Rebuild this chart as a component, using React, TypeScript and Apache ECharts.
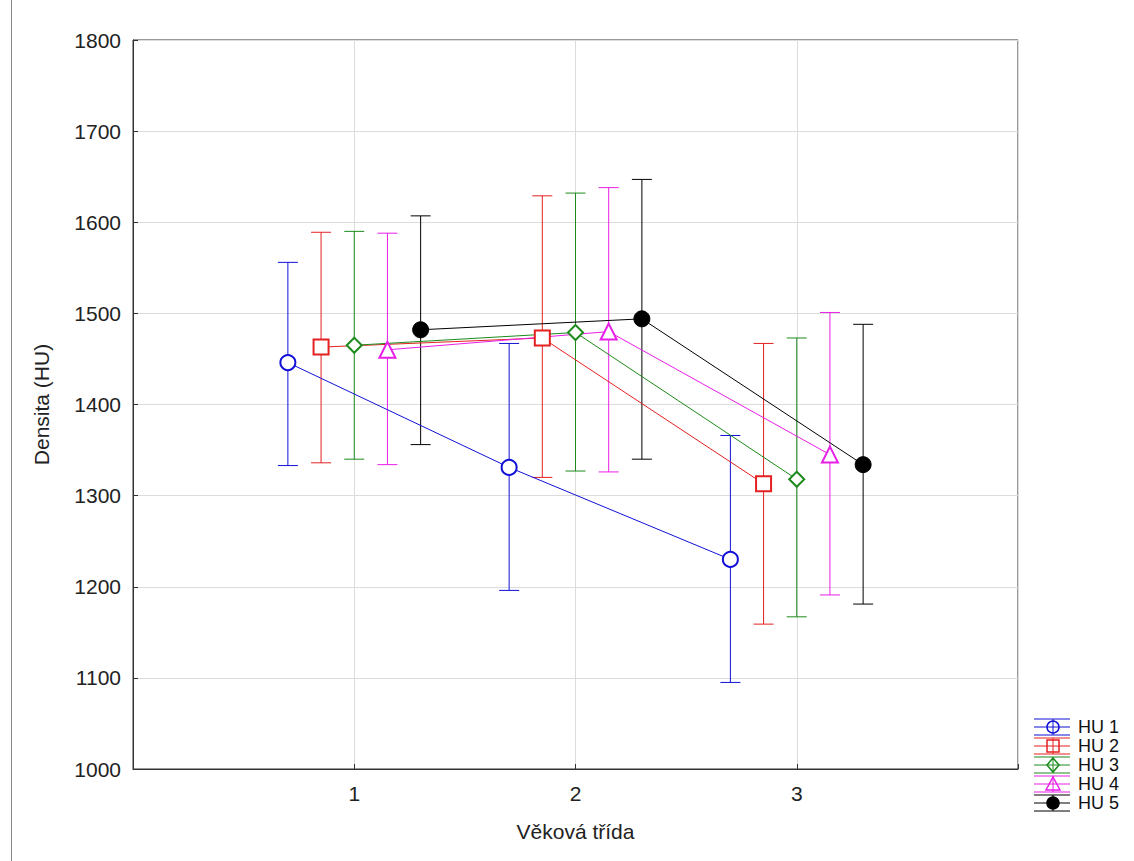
import React, { useEffect, useRef } from "react";
import * as echarts from "echarts";

const groups = [1, 2, 3];
const seriesNames = ["HU 1", "HU 2", "HU 3", "HU 4", "HU 5"];
const offsets = [-0.3, -0.15, 0, 0.15, 0.3];
const colors = ["#1010d8", "#e42020", "#1c8a1c", "#e81ee8", "#000000"];
const symbols = ["circle", "rect", "diamond", "triangle", "circle"];
const symbolSizes = [15, 15, 15, 16, 16];
const filled = [false, false, false, false, true];

const hu1Mean = [1446, 1331, 1230];
const hu1Low = [1333, 1196, 1095];
const hu1High = [1556, 1467, 1366];
const hu2Mean = [1463, 1473, 1313];
const hu2Low = [1336, 1320, 1159];
const hu2High = [1589, 1629, 1467];
const hu3Mean = [1465, 1479, 1318];
const hu3Low = [1340, 1327, 1167];
const hu3High = [1590, 1632, 1473];
const hu4Mean = [1460, 1480, 1345];
const hu4Low = [1334, 1326, 1191];
const hu4High = [1588, 1638, 1501];
const hu5Mean = [1482, 1494, 1334];
const hu5Low = [1356, 1340, 1181];
const hu5High = [1607, 1647, 1488];

const yTicks = [1000, 1100, 1200, 1300, 1400, 1500, 1600, 1700, 1800];
const xTickLabels = ["1", "2", "3"];

const means = [hu1Mean, hu2Mean, hu3Mean, hu4Mean, hu5Mean];
const lows = [hu1Low, hu2Low, hu3Low, hu4Low, hu5Low];
const highs = [hu1High, hu2High, hu3High, hu4High, hu5High];

const FONT = "'Liberation Sans', Arial, sans-serif";

export default function App() {
  const ref = useRef<HTMLDivElement>(null);
  useEffect(() => {
    if (!ref.current) return;
    const chart = echarts.init(ref.current, null, { renderer: "svg" });
    const series: any[] = [];
    seriesNames.forEach((name, i) => {
      const col = colors[i];
      series.push({
        type: "custom",
        name: name + " err",
        z: 2,
        data: groups.map((g, k) => [g + offsets[i], lows[i][k], highs[i][k]]),
        renderItem: (params: any, api: any) => {
          const x = api.value(0);
          const lo = api.coord([x, api.value(1)]);
          const hi = api.coord([x, api.value(2)]);
          const cap = 10;
          const st = { stroke: col, lineWidth: 1 };
          return {
            type: "group",
            children: [
              { type: "line", shape: { x1: lo[0], y1: lo[1], x2: hi[0], y2: hi[1] }, style: st },
              { type: "line", shape: { x1: lo[0] - cap, y1: lo[1], x2: lo[0] + cap, y2: lo[1] }, style: st },
              { type: "line", shape: { x1: hi[0] - cap, y1: hi[1], x2: hi[0] + cap, y2: hi[1] }, style: st },
            ],
          };
        },
      });
      series.push({
        type: "line",
        name,
        z: 3,
        data: groups.map((g, k) => [g + offsets[i], means[i][k]]),
        symbol: symbols[i],
        symbolSize: symbolSizes[i],
        showAllSymbol: true,
        lineStyle: { color: col, width: 1 },
        itemStyle: {
          color: filled[i] ? col : "#ffffff",
          borderColor: col,
          borderWidth: filled[i] ? 1 : 2,
        },
      });
    });

    const legendX = 1034;
    const legendY0 = 727;
    const legendStep = 19;
    const legendGraphics: any[] = [];
    seriesNames.forEach((name, i) => {
      const col = colors[i];
      const cy = legendY0 + i * legendStep;
      const mx = 1053;
      const st = { stroke: col, lineWidth: 1 };
      legendGraphics.push({ type: "line", shape: { x1: legendX, y1: cy - 8, x2: legendX + 36, y2: cy - 8 }, style: st, z: 10 });
      legendGraphics.push({ type: "line", shape: { x1: legendX, y1: cy, x2: legendX + 36, y2: cy }, style: st, z: 10 });
      legendGraphics.push({ type: "line", shape: { x1: legendX, y1: cy + 8, x2: legendX + 36, y2: cy + 8 }, style: st, z: 10 });
      legendGraphics.push({ type: "line", shape: { x1: mx, y1: cy - 8, x2: mx, y2: cy + 8 }, style: st, z: 10 });
      const fill = filled[i] ? col : "rgba(255,255,255,0)";
      const mst = { stroke: col, lineWidth: 1.5, fill };
      if (symbols[i] === "circle") {
        legendGraphics.push({ type: "circle", shape: { cx: mx, cy, r: 6 }, style: mst, z: 11 });
      } else if (symbols[i] === "rect") {
        legendGraphics.push({ type: "rect", shape: { x: mx - 6, y: cy - 6, width: 12, height: 12 }, style: mst, z: 11 });
      } else if (symbols[i] === "diamond") {
        legendGraphics.push({ type: "polygon", shape: { points: [[mx, cy - 7], [mx + 6, cy], [mx, cy + 7], [mx - 6, cy]] }, style: mst, z: 11 });
      } else {
        legendGraphics.push({ type: "polygon", shape: { points: [[mx, cy - 7], [mx + 7, cy + 6], [mx - 7, cy + 6]] }, style: mst, z: 11 });
      }
      legendGraphics.push({
        type: "text",
        x: 1078,
        y: cy,
        style: { text: name, fill: "#111", font: `18px ${FONT}`, textVerticalAlign: "middle" },
        z: 11,
      });
    });

    chart.setOption({
      animation: false,
      backgroundColor: "#ffffff",
      grid: {
        left: 133,
        top: 40,
        right: 116,
        bottom: 92,
        show: true,
        borderColor: "#333",
        borderWidth: 1,
        backgroundColor: "transparent",
      },
      xAxis: {
        type: "value",
        min: 0,
        max: 4,
        interval: 1,
        name: "Věková třída",
        nameLocation: "middle",
        nameGap: 52,
        nameTextStyle: { fontFamily: FONT, fontSize: 21, color: "#222" },
        axisLine: { show: true, onZero: false, lineStyle: { color: "#333" } },
        axisTick: { show: true, inside: true, length: 5, lineStyle: { color: "#333" } },
        axisLabel: {
          margin: 14,
          fontFamily: FONT,
          fontSize: 21,
          color: "#222",
          formatter: (v: number) => (v >= 1 && v <= 3 ? xTickLabels[v - 1] : ""),
        },
        splitLine: { show: true, lineStyle: { color: "#dcdcdc" } },
      },
      yAxis: {
        type: "value",
        min: yTicks[0],
        max: yTicks[yTicks.length - 1],
        interval: 100,
        name: "Densita (HU)",
        nameLocation: "middle",
        nameGap: 81,
        nameRotate: 90,
        nameTextStyle: { fontFamily: FONT, fontSize: 21, color: "#222" },
        axisLine: { show: true, lineStyle: { color: "#333" } },
        axisTick: { show: true, inside: true, length: 5, lineStyle: { color: "#333" } },
        axisLabel: {
          margin: 12,
          fontFamily: FONT,
          fontSize: 21,
          color: "#222",
          formatter: (v: number) => String(v),
        },
        splitLine: { show: true, lineStyle: { color: "#dcdcdc" } },
      },
      graphic: [
        { type: "line", shape: { x1: 11.5, y1: 0, x2: 11.5, y2: 861 }, style: { stroke: "#888", lineWidth: 1 } },
        ...legendGraphics,
      ],
      series,
    });
    return () => chart.dispose();
  }, []);
  return (
    <div
      ref={ref}
      style={{ position: "fixed", left: 0, top: 0, width: 1134, height: 861, background: "#fff" }}
    />
  );
}
